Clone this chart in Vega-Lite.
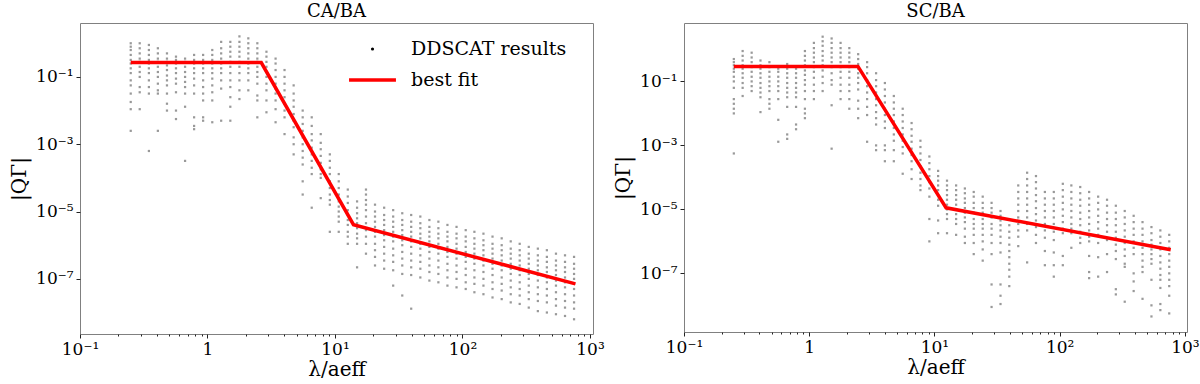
{
"$schema": "https://vega.github.io/schema/vega-lite/v6.json",
"background": "white",
"padding": {"left": 9, "top": 2, "right": 0, "bottom": 0},
"datasets": {
"ca": [
{"x":0.25,"y":1},{"x":0.25,"y":0.79},{"x":0.25,"y":0.63},{"x":0.25,"y":0.45},{"x":0.25,"y":0.32},{"x":0.25,"y":0.25},{"x":0.25,"y":0.18},{"x":0.25,"y":0.13},{"x":0.25,"y":0.079},{"x":0.25,"y":0.056},{"x":0.25,"y":0.032},{"x":0.25,"y":0.018},{"x":0.25,"y":0.011},{"x":0.25,"y":0.0025},
{"x":0.294,"y":1},{"x":0.294,"y":0.71},{"x":0.294,"y":0.5},{"x":0.294,"y":0.35},{"x":0.294,"y":0.28},{"x":0.294,"y":0.2},{"x":0.294,"y":0.14},{"x":0.294,"y":0.1},{"x":0.294,"y":0.05},{"x":0.294,"y":0.035},{"x":0.294,"y":0.011},
{"x":0.347,"y":0.89},{"x":0.347,"y":0.63},{"x":0.347,"y":0.45},{"x":0.347,"y":0.32},{"x":0.347,"y":0.25},{"x":0.347,"y":0.18},{"x":0.347,"y":0.13},{"x":0.347,"y":0.079},{"x":0.347,"y":0.05},{"x":0.347,"y":0.032},{"x":0.347,"y":6.3e-4},
{"x":0.408,"y":0.71},{"x":0.408,"y":0.5},{"x":0.408,"y":0.35},{"x":0.408,"y":0.28},{"x":0.408,"y":0.2},{"x":0.408,"y":0.14},{"x":0.408,"y":0.1},{"x":0.408,"y":0.063},{"x":0.408,"y":0.04},{"x":0.408,"y":0.032},{"x":0.408,"y":0.0025},
{"x":0.481,"y":0.5},{"x":0.481,"y":0.35},{"x":0.481,"y":0.28},{"x":0.481,"y":0.22},{"x":0.481,"y":0.16},{"x":0.481,"y":0.11},{"x":0.481,"y":0.079},{"x":0.481,"y":0.056},{"x":0.481,"y":0.032},{"x":0.481,"y":0.016},{"x":0.481,"y":0.01},
{"x":0.566,"y":0.4},{"x":0.566,"y":0.32},{"x":0.566,"y":0.25},{"x":0.566,"y":0.18},{"x":0.566,"y":0.13},{"x":0.566,"y":0.089},{"x":0.566,"y":0.063},{"x":0.566,"y":0.035},{"x":0.566,"y":0.01},{"x":0.566,"y":0.0056},
{"x":0.667,"y":0.35},{"x":0.667,"y":0.28},{"x":0.667,"y":0.2},{"x":0.667,"y":0.14},{"x":0.667,"y":0.1},{"x":0.667,"y":0.071},{"x":0.667,"y":0.05},{"x":0.667,"y":0.032},{"x":0.667,"y":0.013},{"x":0.667,"y":3.2e-4},
{"x":0.785,"y":0.45},{"x":0.785,"y":0.32},{"x":0.785,"y":0.25},{"x":0.785,"y":0.18},{"x":0.785,"y":0.13},{"x":0.785,"y":0.089},{"x":0.785,"y":0.056},{"x":0.785,"y":0.032},{"x":0.785,"y":0.0063},{"x":0.785,"y":0.0035},{"x":0.785,"y":0.0028},
{"x":0.924,"y":0.45},{"x":0.924,"y":0.32},{"x":0.924,"y":0.25},{"x":0.924,"y":0.18},{"x":0.924,"y":0.13},{"x":0.924,"y":0.079},{"x":0.924,"y":0.05},{"x":0.924,"y":0.032},{"x":0.924,"y":0.02},{"x":0.924,"y":0.0063},{"x":0.924,"y":0.005},
{"x":1.09,"y":0.63},{"x":1.09,"y":0.45},{"x":1.09,"y":0.32},{"x":1.09,"y":0.25},{"x":1.09,"y":0.18},{"x":1.09,"y":0.13},{"x":1.09,"y":0.089},{"x":1.09,"y":0.056},{"x":1.09,"y":0.035},{"x":1.09,"y":0.02},{"x":1.09,"y":0.0045},
{"x":1.28,"y":1.1},{"x":1.28,"y":0.71},{"x":1.28,"y":0.5},{"x":1.28,"y":0.35},{"x":1.28,"y":0.25},{"x":1.28,"y":0.18},{"x":1.28,"y":0.13},{"x":1.28,"y":0.079},{"x":1.28,"y":0.045},{"x":1.28,"y":0.005},
{"x":1.51,"y":1.1},{"x":1.51,"y":0.79},{"x":1.51,"y":0.56},{"x":1.51,"y":0.4},{"x":1.51,"y":0.28},{"x":1.51,"y":0.2},{"x":1.51,"y":0.13},{"x":1.51,"y":0.079},{"x":1.51,"y":0.05},{"x":1.51,"y":0.025},{"x":1.51,"y":0.013},{"x":1.51,"y":0.005},
{"x":1.78,"y":1.6},{"x":1.78,"y":1.1},{"x":1.78,"y":0.79},{"x":1.78,"y":0.56},{"x":1.78,"y":0.4},{"x":1.78,"y":0.28},{"x":1.78,"y":0.2},{"x":1.78,"y":0.13},{"x":1.78,"y":0.079},{"x":1.78,"y":0.04},{"x":1.78,"y":0.022},
{"x":2.09,"y":1.4},{"x":2.09,"y":1},{"x":2.09,"y":0.71},{"x":2.09,"y":0.5},{"x":2.09,"y":0.35},{"x":2.09,"y":0.25},{"x":2.09,"y":0.18},{"x":2.09,"y":0.13},{"x":2.09,"y":0.079},{"x":2.09,"y":0.04},
{"x":2.46,"y":1},{"x":2.46,"y":0.71},{"x":2.46,"y":0.5},{"x":2.46,"y":0.35},{"x":2.46,"y":0.28},{"x":2.46,"y":0.2},{"x":2.46,"y":0.14},{"x":2.46,"y":0.1},{"x":2.46,"y":0.063},{"x":2.46,"y":0.028},{"x":2.46,"y":0.02},{"x":2.46,"y":0.0063},
{"x":2.9,"y":0.56},{"x":2.9,"y":0.4},{"x":2.9,"y":0.28},{"x":2.9,"y":0.2},{"x":2.9,"y":0.14},{"x":2.9,"y":0.1},{"x":2.9,"y":0.063},{"x":2.9,"y":0.04},{"x":2.9,"y":0.02},{"x":2.9,"y":0.0089},
{"x":3.42,"y":0.35},{"x":3.42,"y":0.25},{"x":3.42,"y":0.16},{"x":3.42,"y":0.1},{"x":3.42,"y":0.063},{"x":3.42,"y":0.045},{"x":3.42,"y":0.032},{"x":3.42,"y":0.02},{"x":3.42,"y":0.011},{"x":3.42,"y":0.0045},
{"x":4.02,"y":0.16},{"x":4.02,"y":0.1},{"x":4.02,"y":0.063},{"x":4.02,"y":0.04},{"x":4.02,"y":0.025},{"x":4.02,"y":0.016},{"x":4.02,"y":0.01},{"x":4.02,"y":0.0063},{"x":4.02,"y":0.002},
{"x":4.74,"y":0.056},{"x":4.74,"y":0.032},{"x":4.74,"y":0.02},{"x":4.74,"y":0.013},{"x":4.74,"y":0.0079},{"x":4.74,"y":0.005},{"x":4.74,"y":0.0032},{"x":4.74,"y":0.0016},{"x":4.74,"y":0.001},{"x":4.74,"y":5e-4},
{"x":5.58,"y":0.01},{"x":5.58,"y":0.0063},{"x":5.58,"y":0.004},{"x":5.58,"y":0.0025},{"x":5.58,"y":0.0016},{"x":5.58,"y":0.001},{"x":5.58,"y":6.3e-4},{"x":5.58,"y":4e-4},{"x":5.58,"y":2.5e-4},{"x":5.58,"y":7.9e-5},{"x":5.58,"y":3.2e-5},
{"x":6.57,"y":0.0063},{"x":6.57,"y":0.0035},{"x":6.57,"y":0.002},{"x":6.57,"y":0.0013},{"x":6.57,"y":7.9e-4},{"x":6.57,"y":5e-4},{"x":6.57,"y":3.2e-4},{"x":6.57,"y":2e-4},{"x":6.57,"y":1.3e-4},{"x":6.57,"y":1.3e-5},
{"x":7.73,"y":0.002},{"x":7.73,"y":0.0011},{"x":7.73,"y":7.1e-4},{"x":7.73,"y":4.5e-4},{"x":7.73,"y":2.8e-4},{"x":7.73,"y":1.8e-4},{"x":7.73,"y":1.3e-4},{"x":7.73,"y":1e-4},{"x":7.73,"y":2.5e-5},
{"x":9.11,"y":5e-4},{"x":9.11,"y":3.2e-4},{"x":9.11,"y":2e-4},{"x":9.11,"y":1.3e-4},{"x":9.11,"y":7.9e-5},{"x":9.11,"y":5e-5},{"x":9.11,"y":3.2e-5},{"x":9.11,"y":2.2e-5},{"x":9.11,"y":1.6e-5},{"x":9.11,"y":2.5e-6},
{"x":10.7,"y":1.3e-4},{"x":10.7,"y":7.9e-5},{"x":10.7,"y":5e-5},{"x":10.7,"y":3.2e-5},{"x":10.7,"y":2e-5},{"x":10.7,"y":1.4e-5},{"x":10.7,"y":1e-5},{"x":10.7,"y":7.1e-6},{"x":10.7,"y":5e-6},{"x":10.7,"y":2.5e-6},
{"x":12.6,"y":4.5e-5},{"x":12.6,"y":2.8e-5},{"x":12.6,"y":1.8e-5},{"x":12.6,"y":1.1e-5},{"x":12.6,"y":7.9e-6},{"x":12.6,"y":5.6e-6},{"x":12.6,"y":4e-6},{"x":12.6,"y":2.5e-6},{"x":12.6,"y":1.8e-6},{"x":12.6,"y":1.1e-6},
{"x":14.9,"y":2e-5},{"x":14.9,"y":1.3e-5},{"x":14.9,"y":8.9e-6},{"x":14.9,"y":6.3e-6},{"x":14.9,"y":4.5e-6},{"x":14.9,"y":3.2e-6},{"x":14.9,"y":2.2e-6},{"x":14.9,"y":1.6e-6},{"x":14.9,"y":1.1e-6},{"x":14.9,"y":2.2e-7},
{"x":17.5,"y":4.5e-5},{"x":17.5,"y":3.2e-5},{"x":17.5,"y":2.2e-5},{"x":17.5,"y":1.6e-5},{"x":17.5,"y":1.1e-5},{"x":17.5,"y":7.1e-6},{"x":17.5,"y":4.5e-6},{"x":17.5,"y":2.8e-6},{"x":17.5,"y":1.8e-6},{"x":17.5,"y":1.1e-6},{"x":17.5,"y":5.6e-7},
{"x":20.6,"y":1.6e-5},{"x":20.6,"y":1e-5},{"x":20.6,"y":7.1e-6},{"x":20.6,"y":5e-6},{"x":20.6,"y":3.5e-6},{"x":20.6,"y":2.5e-6},{"x":20.6,"y":1.8e-6},{"x":20.6,"y":1.1e-6},{"x":20.6,"y":7.1e-7},{"x":20.6,"y":4.5e-7},{"x":20.6,"y":2.5e-7},
{"x":24.3,"y":1.3e-5},{"x":24.3,"y":7.9e-6},{"x":24.3,"y":5.6e-6},{"x":24.3,"y":4e-6},{"x":24.3,"y":2.8e-6},{"x":24.3,"y":2e-6},{"x":24.3,"y":1.4e-6},{"x":24.3,"y":8.9e-7},{"x":24.3,"y":5.6e-7},{"x":24.3,"y":3.5e-7},{"x":24.3,"y":2e-7},
{"x":28.6,"y":1.1e-5},{"x":28.6,"y":7.1e-6},{"x":28.6,"y":5e-6},{"x":28.6,"y":3.5e-6},{"x":28.6,"y":2.5e-6},{"x":28.6,"y":1.8e-6},{"x":28.6,"y":1.3e-6},{"x":28.6,"y":7.9e-7},{"x":28.6,"y":5e-7},{"x":28.6,"y":3.2e-7},{"x":28.6,"y":1.8e-7},{"x":28.6,"y":6.3e-8},
{"x":33.7,"y":8.9e-6},{"x":33.7,"y":5.6e-6},{"x":33.7,"y":4e-6},{"x":33.7,"y":2.8e-6},{"x":33.7,"y":2e-6},{"x":33.7,"y":1.4e-6},{"x":33.7,"y":1e-6},{"x":33.7,"y":6.3e-7},{"x":33.7,"y":4e-7},{"x":33.7,"y":2.5e-7},{"x":33.7,"y":1.4e-7},{"x":33.7,"y":3.2e-8},
{"x":39.6,"y":7.9e-6},{"x":39.6,"y":5e-6},{"x":39.6,"y":3.5e-6},{"x":39.6,"y":2.5e-6},{"x":39.6,"y":1.8e-6},{"x":39.6,"y":1.3e-6},{"x":39.6,"y":8.9e-7},{"x":39.6,"y":5.6e-7},{"x":39.6,"y":3.5e-7},{"x":39.6,"y":2.2e-7},{"x":39.6,"y":1.3e-7},{"x":39.6,"y":1.3e-8},
{"x":46.7,"y":7.1e-6},{"x":46.7,"y":4.5e-6},{"x":46.7,"y":3.2e-6},{"x":46.7,"y":2.2e-6},{"x":46.7,"y":1.6e-6},{"x":46.7,"y":1.1e-6},{"x":46.7,"y":7.9e-7},{"x":46.7,"y":5e-7},{"x":46.7,"y":3.2e-7},{"x":46.7,"y":2e-7},{"x":46.7,"y":1.1e-7},
{"x":55,"y":5.6e-6},{"x":55,"y":3.5e-6},{"x":55,"y":2.5e-6},{"x":55,"y":1.8e-6},{"x":55,"y":1.3e-6},{"x":55,"y":8.9e-7},{"x":55,"y":6.3e-7},{"x":55,"y":4e-7},{"x":55,"y":2.5e-7},{"x":55,"y":1.6e-7},{"x":55,"y":8.9e-8},
{"x":64.7,"y":5e-6},{"x":64.7,"y":3.2e-6},{"x":64.7,"y":2.2e-6},{"x":64.7,"y":1.6e-6},{"x":64.7,"y":1.1e-6},{"x":64.7,"y":7.9e-7},{"x":64.7,"y":5.6e-7},{"x":64.7,"y":3.5e-7},{"x":64.7,"y":2.2e-7},{"x":64.7,"y":1.4e-7},{"x":64.7,"y":7.9e-8},
{"x":76.2,"y":4e-6},{"x":76.2,"y":2.5e-6},{"x":76.2,"y":1.8e-6},{"x":76.2,"y":1.3e-6},{"x":76.2,"y":8.9e-7},{"x":76.2,"y":6.3e-7},{"x":76.2,"y":4.5e-7},{"x":76.2,"y":2.8e-7},{"x":76.2,"y":1.8e-7},{"x":76.2,"y":1.1e-7},{"x":76.2,"y":6.3e-8},
{"x":89.8,"y":3.5e-6},{"x":89.8,"y":2.2e-6},{"x":89.8,"y":1.6e-6},{"x":89.8,"y":1.1e-6},{"x":89.8,"y":7.9e-7},{"x":89.8,"y":5.6e-7},{"x":89.8,"y":4e-7},{"x":89.8,"y":2.5e-7},{"x":89.8,"y":1.6e-7},{"x":89.8,"y":1e-7},{"x":89.8,"y":5.6e-8},
{"x":106,"y":2.8e-6},{"x":106,"y":1.8e-6},{"x":106,"y":1.3e-6},{"x":106,"y":8.9e-7},{"x":106,"y":6.3e-7},{"x":106,"y":4.5e-7},{"x":106,"y":3.2e-7},{"x":106,"y":2e-7},{"x":106,"y":1.3e-7},{"x":106,"y":7.9e-8},{"x":106,"y":5e-8},
{"x":124,"y":2.5e-6},{"x":124,"y":1.6e-6},{"x":124,"y":1.1e-6},{"x":124,"y":7.9e-7},{"x":124,"y":5.6e-7},{"x":124,"y":4e-7},{"x":124,"y":2.8e-7},{"x":124,"y":1.8e-7},{"x":124,"y":1.1e-7},{"x":124,"y":7.1e-8},{"x":124,"y":4e-8},
{"x":146,"y":2.2e-6},{"x":146,"y":1.4e-6},{"x":146,"y":1e-6},{"x":146,"y":7.1e-7},{"x":146,"y":5e-7},{"x":146,"y":3.5e-7},{"x":146,"y":2.5e-7},{"x":146,"y":1.6e-7},{"x":146,"y":1e-7},{"x":146,"y":6.3e-8},{"x":146,"y":3.5e-8},
{"x":172,"y":1.8e-6},{"x":172,"y":1.1e-6},{"x":172,"y":7.9e-7},{"x":172,"y":5.6e-7},{"x":172,"y":4e-7},{"x":172,"y":2.8e-7},{"x":172,"y":2e-7},{"x":172,"y":1.3e-7},{"x":172,"y":7.9e-8},{"x":172,"y":5e-8},{"x":172,"y":2.8e-8},
{"x":203,"y":1.6e-6},{"x":203,"y":1e-6},{"x":203,"y":7.1e-7},{"x":203,"y":5e-7},{"x":203,"y":3.5e-7},{"x":203,"y":2.5e-7},{"x":203,"y":1.8e-7},{"x":203,"y":1.1e-7},{"x":203,"y":7.1e-8},{"x":203,"y":4.5e-8},{"x":203,"y":2.5e-8},
{"x":239,"y":1.3e-6},{"x":239,"y":7.9e-7},{"x":239,"y":5.6e-7},{"x":239,"y":4e-7},{"x":239,"y":2.8e-7},{"x":239,"y":2e-7},{"x":239,"y":1.4e-7},{"x":239,"y":8.9e-8},{"x":239,"y":5.6e-8},{"x":239,"y":3.5e-8},{"x":239,"y":2e-8},
{"x":281,"y":1.1e-6},{"x":281,"y":7.1e-7},{"x":281,"y":5e-7},{"x":281,"y":3.5e-7},{"x":281,"y":2.5e-7},{"x":281,"y":1.8e-7},{"x":281,"y":1.3e-7},{"x":281,"y":7.9e-8},{"x":281,"y":5e-8},{"x":281,"y":3.2e-8},{"x":281,"y":1.8e-8},
{"x":331,"y":8.9e-7},{"x":331,"y":5.6e-7},{"x":331,"y":4e-7},{"x":331,"y":2.8e-7},{"x":331,"y":2e-7},{"x":331,"y":1.4e-7},{"x":331,"y":1e-7},{"x":331,"y":6.3e-8},{"x":331,"y":4e-8},{"x":331,"y":2.5e-8},{"x":331,"y":1.4e-8},
{"x":390,"y":7.9e-7},{"x":390,"y":5e-7},{"x":390,"y":3.5e-7},{"x":390,"y":2.5e-7},{"x":390,"y":1.8e-7},{"x":390,"y":1.3e-7},{"x":390,"y":8.9e-8},{"x":390,"y":5.6e-8},{"x":390,"y":3.5e-8},{"x":390,"y":2.2e-8},{"x":390,"y":1.1e-8},
{"x":459,"y":7.1e-7},{"x":459,"y":4.5e-7},{"x":459,"y":3.2e-7},{"x":459,"y":2.2e-7},{"x":459,"y":1.6e-7},{"x":459,"y":1.1e-7},{"x":459,"y":7.9e-8},{"x":459,"y":5e-8},{"x":459,"y":3.2e-8},{"x":459,"y":2e-8},{"x":459,"y":1e-8},
{"x":541,"y":5.6e-7},{"x":541,"y":3.5e-7},{"x":541,"y":2.5e-7},{"x":541,"y":1.8e-7},{"x":541,"y":1.3e-7},{"x":541,"y":8.9e-8},{"x":541,"y":6.3e-8},{"x":541,"y":4e-8},{"x":541,"y":2.5e-8},{"x":541,"y":1.6e-8},{"x":541,"y":8.9e-9},
{"x":637,"y":5e-7},{"x":637,"y":3.2e-7},{"x":637,"y":2.2e-7},{"x":637,"y":1.6e-7},{"x":637,"y":1.1e-7},{"x":637,"y":7.9e-8},{"x":637,"y":5.6e-8},{"x":637,"y":3.5e-8},{"x":637,"y":2.2e-8},{"x":637,"y":1.4e-8},{"x":637,"y":7.9e-9},
{"x":750,"y":4.5e-7},{"x":750,"y":2.8e-7},{"x":750,"y":2e-7},{"x":750,"y":1.4e-7},{"x":750,"y":1e-7},{"x":750,"y":7.1e-8},{"x":750,"y":5e-8},{"x":750,"y":3.2e-8},{"x":750,"y":2e-8},{"x":750,"y":1.3e-8},{"x":750,"y":6.3e-9}
],
"sc": [
{"x":0.25,"y":0.5},{"x":0.25,"y":0.4},{"x":0.25,"y":0.32},{"x":0.25,"y":0.25},{"x":0.25,"y":0.2},{"x":0.25,"y":0.14},{"x":0.25,"y":0.1},{"x":0.25,"y":0.063},{"x":0.25,"y":0.028},{"x":0.25,"y":0.02},{"x":0.25,"y":0.014},{"x":0.25,"y":0.01},{"x":0.25,"y":5.6e-4},
{"x":0.294,"y":0.89},{"x":0.294,"y":0.63},{"x":0.294,"y":0.45},{"x":0.294,"y":0.32},{"x":0.294,"y":0.25},{"x":0.294,"y":0.18},{"x":0.294,"y":0.13},{"x":0.294,"y":0.089},{"x":0.294,"y":0.063},{"x":0.294,"y":0.035},
{"x":0.347,"y":0.79},{"x":0.347,"y":0.56},{"x":0.347,"y":0.4},{"x":0.347,"y":0.28},{"x":0.347,"y":0.2},{"x":0.347,"y":0.14},{"x":0.347,"y":0.1},{"x":0.347,"y":0.071},{"x":0.347,"y":0.05},
{"x":0.408,"y":0.45},{"x":0.408,"y":0.32},{"x":0.408,"y":0.25},{"x":0.408,"y":0.18},{"x":0.408,"y":0.13},{"x":0.408,"y":0.089},{"x":0.408,"y":0.063},{"x":0.408,"y":0.045},{"x":0.408,"y":0.032},{"x":0.408,"y":0.011},
{"x":0.481,"y":0.4},{"x":0.481,"y":0.28},{"x":0.481,"y":0.2},{"x":0.481,"y":0.14},{"x":0.481,"y":0.1},{"x":0.481,"y":0.071},{"x":0.481,"y":0.05},{"x":0.481,"y":0.028},{"x":0.481,"y":0.02},{"x":0.481,"y":0.014},
{"x":0.566,"y":0.25},{"x":0.566,"y":0.2},{"x":0.566,"y":0.14},{"x":0.566,"y":0.1},{"x":0.566,"y":0.071},{"x":0.566,"y":0.05},{"x":0.566,"y":0.028},{"x":0.566,"y":0.0063},{"x":0.566,"y":0.0013},
{"x":0.667,"y":0.35},{"x":0.667,"y":0.25},{"x":0.667,"y":0.18},{"x":0.667,"y":0.13},{"x":0.667,"y":0.089},{"x":0.667,"y":0.063},{"x":0.667,"y":0.045},{"x":0.667,"y":0.032},{"x":0.667,"y":0.016},{"x":0.667,"y":0.0022},{"x":0.667,"y":0.0016},
{"x":0.785,"y":0.25},{"x":0.785,"y":0.18},{"x":0.785,"y":0.13},{"x":0.785,"y":0.089},{"x":0.785,"y":0.063},{"x":0.785,"y":0.045},{"x":0.785,"y":0.032},{"x":0.785,"y":0.016},{"x":0.785,"y":0.0045},{"x":0.785,"y":0.0032},
{"x":0.924,"y":0.89},{"x":0.924,"y":0.63},{"x":0.924,"y":0.45},{"x":0.924,"y":0.32},{"x":0.924,"y":0.22},{"x":0.924,"y":0.16},{"x":0.924,"y":0.11},{"x":0.924,"y":0.079},{"x":0.924,"y":0.05},{"x":0.924,"y":0.028},{"x":0.924,"y":0.014},{"x":0.924,"y":0.01},{"x":0.924,"y":0.0071},
{"x":1.09,"y":1.6},{"x":1.09,"y":1.1},{"x":1.09,"y":0.79},{"x":1.09,"y":0.56},{"x":1.09,"y":0.4},{"x":1.09,"y":0.28},{"x":1.09,"y":0.2},{"x":1.09,"y":0.13},{"x":1.09,"y":0.079},{"x":1.09,"y":0.05},{"x":1.09,"y":0.028},
{"x":1.28,"y":2.5},{"x":1.28,"y":1.8},{"x":1.28,"y":1.3},{"x":1.28,"y":0.89},{"x":1.28,"y":0.63},{"x":1.28,"y":0.45},{"x":1.28,"y":0.32},{"x":1.28,"y":0.22},{"x":1.28,"y":0.14},{"x":1.28,"y":0.089},{"x":1.28,"y":0.05},
{"x":1.51,"y":2.2},{"x":1.51,"y":1.6},{"x":1.51,"y":1.1},{"x":1.51,"y":0.79},{"x":1.51,"y":0.56},{"x":1.51,"y":0.4},{"x":1.51,"y":0.28},{"x":1.51,"y":0.18},{"x":1.51,"y":0.11},{"x":1.51,"y":0.079},{"x":1.51,"y":0.018},{"x":1.51,"y":7.9e-4},
{"x":1.78,"y":1.6},{"x":1.78,"y":1.1},{"x":1.78,"y":0.79},{"x":1.78,"y":0.56},{"x":1.78,"y":0.4},{"x":1.78,"y":0.28},{"x":1.78,"y":0.2},{"x":1.78,"y":0.13},{"x":1.78,"y":0.079},{"x":1.78,"y":0.05},{"x":1.78,"y":0.028},
{"x":2.09,"y":1.1},{"x":2.09,"y":0.79},{"x":2.09,"y":0.56},{"x":2.09,"y":0.4},{"x":2.09,"y":0.28},{"x":2.09,"y":0.2},{"x":2.09,"y":0.13},{"x":2.09,"y":0.079},{"x":2.09,"y":0.05},{"x":2.09,"y":0.028},{"x":2.09,"y":0.014},
{"x":2.46,"y":0.71},{"x":2.46,"y":0.5},{"x":2.46,"y":0.35},{"x":2.46,"y":0.25},{"x":2.46,"y":0.18},{"x":2.46,"y":0.13},{"x":2.46,"y":0.089},{"x":2.46,"y":0.056},{"x":2.46,"y":0.025},{"x":2.46,"y":0.014},{"x":2.46,"y":0.0071},
{"x":2.9,"y":0.4},{"x":2.9,"y":0.28},{"x":2.9,"y":0.18},{"x":2.9,"y":0.11},{"x":2.9,"y":0.071},{"x":2.9,"y":0.045},{"x":2.9,"y":0.028},{"x":2.9,"y":0.016},{"x":2.9,"y":0.0089},{"x":2.9,"y":0.0013},
{"x":3.42,"y":0.18},{"x":3.42,"y":0.11},{"x":3.42,"y":0.071},{"x":3.42,"y":0.045},{"x":3.42,"y":0.028},{"x":3.42,"y":0.018},{"x":3.42,"y":0.011},{"x":3.42,"y":0.0071},{"x":3.42,"y":0.0045},{"x":3.42,"y":0.001},{"x":3.42,"y":7.1e-4},
{"x":4.02,"y":0.089},{"x":4.02,"y":0.056},{"x":4.02,"y":0.035},{"x":4.02,"y":0.022},{"x":4.02,"y":0.014},{"x":4.02,"y":0.0089},{"x":4.02,"y":0.0056},{"x":4.02,"y":0.0035},{"x":4.02,"y":0.001},{"x":4.02,"y":7.1e-4},{"x":4.02,"y":3.2e-4},
{"x":4.74,"y":0.035},{"x":4.74,"y":0.022},{"x":4.74,"y":0.014},{"x":4.74,"y":0.0089},{"x":4.74,"y":0.0056},{"x":4.74,"y":0.0035},{"x":4.74,"y":0.0022},{"x":4.74,"y":0.0014},{"x":4.74,"y":7.1e-4},{"x":4.74,"y":3.2e-4},
{"x":5.58,"y":0.014},{"x":5.58,"y":0.0089},{"x":5.58,"y":0.0056},{"x":5.58,"y":0.0035},{"x":5.58,"y":0.0022},{"x":5.58,"y":0.0014},{"x":5.58,"y":8.9e-4},{"x":5.58,"y":5.6e-4},{"x":5.58,"y":1.3e-4},
{"x":6.57,"y":0.005},{"x":6.57,"y":0.0032},{"x":6.57,"y":0.002},{"x":6.57,"y":0.0013},{"x":6.57,"y":7.9e-4},{"x":6.57,"y":5e-4},{"x":6.57,"y":3.2e-4},{"x":6.57,"y":1.8e-4},{"x":6.57,"y":8.9e-5},
{"x":7.73,"y":0.0014},{"x":7.73,"y":8.9e-4},{"x":7.73,"y":5.6e-4},{"x":7.73,"y":3.5e-4},{"x":7.73,"y":2.2e-4},{"x":7.73,"y":1.4e-4},{"x":7.73,"y":8.9e-5},{"x":7.73,"y":5.6e-5},{"x":7.73,"y":4e-5},
{"x":9.11,"y":4.5e-4},{"x":9.11,"y":2.8e-4},{"x":9.11,"y":1.8e-4},{"x":9.11,"y":1.1e-4},{"x":9.11,"y":7.1e-5},{"x":9.11,"y":4.5e-5},{"x":9.11,"y":2.5e-5},{"x":9.11,"y":5e-6},{"x":9.11,"y":1e-6},
{"x":10.7,"y":1.6e-4},{"x":10.7,"y":1.1e-4},{"x":10.7,"y":7.9e-5},{"x":10.7,"y":5.6e-5},{"x":10.7,"y":4e-5},{"x":10.7,"y":2.8e-5},{"x":10.7,"y":2e-5},{"x":10.7,"y":1.3e-5},{"x":10.7,"y":4.5e-6},{"x":10.7,"y":1.8e-6},
{"x":12.6,"y":7.9e-5},{"x":12.6,"y":5.6e-5},{"x":12.6,"y":4e-5},{"x":12.6,"y":2.8e-5},{"x":12.6,"y":2e-5},{"x":12.6,"y":1.4e-5},{"x":12.6,"y":1e-5},{"x":12.6,"y":7.1e-6},{"x":12.6,"y":5e-6},{"x":12.6,"y":1.8e-6},
{"x":14.9,"y":5.6e-5},{"x":14.9,"y":4e-5},{"x":14.9,"y":2.8e-5},{"x":14.9,"y":2e-5},{"x":14.9,"y":1.4e-5},{"x":14.9,"y":1e-5},{"x":14.9,"y":7.1e-6},{"x":14.9,"y":5e-6},{"x":14.9,"y":3.5e-6},{"x":14.9,"y":1.6e-6},
{"x":17.5,"y":4.5e-5},{"x":17.5,"y":3.2e-5},{"x":17.5,"y":2.2e-5},{"x":17.5,"y":1.6e-5},{"x":17.5,"y":1.1e-5},{"x":17.5,"y":7.9e-6},{"x":17.5,"y":5.6e-6},{"x":17.5,"y":4e-6},{"x":17.5,"y":2.5e-6},{"x":17.5,"y":1.4e-6},{"x":17.5,"y":8.9e-7},
{"x":20.6,"y":3.5e-5},{"x":20.6,"y":2.5e-5},{"x":20.6,"y":1.6e-5},{"x":20.6,"y":1.1e-5},{"x":20.6,"y":7.9e-6},{"x":20.6,"y":5e-6},{"x":20.6,"y":3.5e-6},{"x":20.6,"y":2.5e-6},{"x":20.6,"y":1.6e-6},{"x":20.6,"y":8.9e-7},{"x":20.6,"y":4e-7},
{"x":24.3,"y":2.5e-5},{"x":24.3,"y":1.6e-5},{"x":24.3,"y":1.1e-5},{"x":24.3,"y":7.9e-6},{"x":24.3,"y":5e-6},{"x":24.3,"y":3.5e-6},{"x":24.3,"y":2.5e-6},{"x":24.3,"y":1.6e-6},{"x":24.3,"y":1e-6},{"x":24.3,"y":5.6e-7},{"x":24.3,"y":2.5e-7},
{"x":28.6,"y":1.6e-5},{"x":28.6,"y":1.1e-5},{"x":28.6,"y":7.9e-6},{"x":28.6,"y":5.6e-6},{"x":28.6,"y":3.5e-6},{"x":28.6,"y":2.5e-6},{"x":28.6,"y":1.6e-6},{"x":28.6,"y":8.9e-7},{"x":28.6,"y":4e-7},{"x":28.6,"y":4.5e-8},{"x":28.6,"y":8.9e-9},
{"x":33.7,"y":8.9e-6},{"x":33.7,"y":6.3e-6},{"x":33.7,"y":4.5e-6},{"x":33.7,"y":3.2e-6},{"x":33.7,"y":2.2e-6},{"x":33.7,"y":1.4e-6},{"x":33.7,"y":8.9e-7},{"x":33.7,"y":4.5e-7},{"x":33.7,"y":4.5e-8},{"x":33.7,"y":2e-8},{"x":33.7,"y":1.1e-8},
{"x":39.6,"y":3.2e-6},{"x":39.6,"y":2e-6},{"x":39.6,"y":1.3e-6},{"x":39.6,"y":7.9e-7},{"x":39.6,"y":5e-7},{"x":39.6,"y":3.2e-7},{"x":39.6,"y":2e-7},{"x":39.6,"y":1.3e-7},{"x":39.6,"y":7.9e-8},{"x":39.6,"y":4e-8},
{"x":46.7,"y":5.6e-5},{"x":46.7,"y":3.5e-5},{"x":46.7,"y":2.2e-5},{"x":46.7,"y":1.4e-5},{"x":46.7,"y":8.9e-6},{"x":46.7,"y":5.6e-6},{"x":46.7,"y":3.5e-6},{"x":46.7,"y":2.2e-6},{"x":46.7,"y":1.4e-6},{"x":46.7,"y":7.1e-7},
{"x":55,"y":1.4e-4},{"x":55,"y":8.9e-5},{"x":55,"y":5.6e-5},{"x":55,"y":3.5e-5},{"x":55,"y":2.2e-5},{"x":55,"y":1.4e-5},{"x":55,"y":8.9e-6},{"x":55,"y":5.6e-6},{"x":55,"y":3.5e-6},{"x":55,"y":2.2e-6},{"x":55,"y":2.2e-7},
{"x":64.7,"y":1.1e-4},{"x":64.7,"y":7.1e-5},{"x":64.7,"y":4.5e-5},{"x":64.7,"y":2.8e-5},{"x":64.7,"y":1.8e-5},{"x":64.7,"y":1.1e-5},{"x":64.7,"y":7.1e-6},{"x":64.7,"y":4.5e-6},{"x":64.7,"y":2.8e-6},{"x":64.7,"y":1.6e-6},{"x":64.7,"y":8.9e-7},
{"x":76.2,"y":3.5e-5},{"x":76.2,"y":2.2e-5},{"x":76.2,"y":1.4e-5},{"x":76.2,"y":8.9e-6},{"x":76.2,"y":5.6e-6},{"x":76.2,"y":3.5e-6},{"x":76.2,"y":2.2e-6},{"x":76.2,"y":1.3e-6},{"x":76.2,"y":5e-7},{"x":76.2,"y":1.8e-7},
{"x":89.8,"y":3.5e-5},{"x":89.8,"y":2.2e-5},{"x":89.8,"y":1.4e-5},{"x":89.8,"y":8.9e-6},{"x":89.8,"y":5.6e-6},{"x":89.8,"y":3.5e-6},{"x":89.8,"y":2e-6},{"x":89.8,"y":1.1e-6},{"x":89.8,"y":4.5e-7},{"x":89.8,"y":1.8e-7},{"x":89.8,"y":7.9e-8},
{"x":106,"y":6.3e-5},{"x":106,"y":4e-5},{"x":106,"y":2.5e-5},{"x":106,"y":1.6e-5},{"x":106,"y":1e-5},{"x":106,"y":6.3e-6},{"x":106,"y":4e-6},{"x":106,"y":2.5e-6},{"x":106,"y":1.8e-6},{"x":106,"y":3.5e-7},{"x":106,"y":1.8e-7},
{"x":124,"y":5.6e-5},{"x":124,"y":3.5e-5},{"x":124,"y":2.2e-5},{"x":124,"y":1.4e-5},{"x":124,"y":8.9e-6},{"x":124,"y":5.6e-6},{"x":124,"y":3.5e-6},{"x":124,"y":2.5e-6},{"x":124,"y":1.8e-6},{"x":124,"y":6.3e-7},
{"x":146,"y":5e-5},{"x":146,"y":3.2e-5},{"x":146,"y":2e-5},{"x":146,"y":1.3e-5},{"x":146,"y":7.9e-6},{"x":146,"y":5e-6},{"x":146,"y":3.2e-6},{"x":146,"y":2e-6},{"x":146,"y":1.3e-6},{"x":146,"y":8.9e-7},
{"x":172,"y":3.5e-5},{"x":172,"y":2.2e-5},{"x":172,"y":1.4e-5},{"x":172,"y":8.9e-6},{"x":172,"y":5.6e-6},{"x":172,"y":3.5e-6},{"x":172,"y":2.2e-6},{"x":172,"y":1.4e-6},{"x":172,"y":1e-6},{"x":172,"y":3.5e-7},{"x":172,"y":1.1e-7},{"x":172,"y":7.1e-8},
{"x":203,"y":2.5e-5},{"x":203,"y":1.6e-5},{"x":203,"y":1e-5},{"x":203,"y":6.3e-6},{"x":203,"y":4e-6},{"x":203,"y":2.5e-6},{"x":203,"y":1.6e-6},{"x":203,"y":8.9e-7},{"x":203,"y":3.2e-7},{"x":203,"y":7.9e-8},
{"x":239,"y":2e-5},{"x":239,"y":1.3e-5},{"x":239,"y":7.9e-6},{"x":239,"y":5e-6},{"x":239,"y":3.2e-6},{"x":239,"y":2e-6},{"x":239,"y":1.1e-6},{"x":239,"y":4e-7},{"x":239,"y":1.1e-7},
{"x":281,"y":1.3e-5},{"x":281,"y":7.9e-6},{"x":281,"y":5e-6},{"x":281,"y":3.2e-6},{"x":281,"y":2e-6},{"x":281,"y":1.3e-6},{"x":281,"y":7.9e-7},{"x":281,"y":5e-7},{"x":281,"y":2.8e-7},{"x":281,"y":3.2e-8},{"x":281,"y":2.2e-8},
{"x":331,"y":8.9e-6},{"x":331,"y":5.6e-6},{"x":331,"y":3.5e-6},{"x":331,"y":2.2e-6},{"x":331,"y":1.4e-6},{"x":331,"y":8.9e-7},{"x":331,"y":5.6e-7},{"x":331,"y":3.5e-7},{"x":331,"y":2e-7},{"x":331,"y":1.6e-7},{"x":331,"y":1.3e-8},
{"x":390,"y":6.3e-6},{"x":390,"y":4e-6},{"x":390,"y":2.5e-6},{"x":390,"y":1.6e-6},{"x":390,"y":1e-6},{"x":390,"y":6.3e-7},{"x":390,"y":4e-7},{"x":390,"y":1e-7},{"x":390,"y":5.6e-8},{"x":390,"y":2.8e-8},
{"x":459,"y":4e-6},{"x":459,"y":2.5e-6},{"x":459,"y":1.6e-6},{"x":459,"y":1e-6},{"x":459,"y":6.3e-7},{"x":459,"y":4e-7},{"x":459,"y":2.5e-7},{"x":459,"y":1.6e-7},{"x":459,"y":1.1e-7},{"x":459,"y":1.6e-8},
{"x":541,"y":2.8e-6},{"x":541,"y":1.8e-6},{"x":541,"y":1.1e-6},{"x":541,"y":7.9e-7},{"x":541,"y":5.6e-7},{"x":541,"y":4e-7},{"x":541,"y":2.8e-7},{"x":541,"y":2e-7},{"x":541,"y":6.3e-8},{"x":541,"y":1e-8},{"x":541,"y":4.5e-9},
{"x":637,"y":2.2e-6},{"x":637,"y":1.4e-6},{"x":637,"y":8.9e-7},{"x":637,"y":5.6e-7},{"x":637,"y":3.5e-7},{"x":637,"y":2.2e-7},{"x":637,"y":1.4e-7},{"x":637,"y":8.9e-8},{"x":637,"y":6.3e-8},{"x":637,"y":3.5e-8},{"x":637,"y":1.1e-8},{"x":637,"y":7.1e-9},
{"x":750,"y":1.6e-6},{"x":750,"y":1e-6},{"x":750,"y":6.3e-7},{"x":750,"y":4e-7},{"x":750,"y":2.5e-7},{"x":750,"y":1.6e-7},{"x":750,"y":1e-7},{"x":750,"y":6.3e-8},{"x":750,"y":4e-8},{"x":750,"y":2e-8},{"x":750,"y":5.6e-9}
],
"cafit": [{"x":0.25,"y":0.266},{"x":2.64,"y":0.266},{"x":13.96,"y":4.07e-6},{"x":769,"y":7.1e-8}],
"scfit": [{"x":0.25,"y":0.295},{"x":2.45,"y":0.295},{"x":12.4,"y":1.12e-5},{"x":771,"y":5.5e-7}]
},
"hconcat": [
{
"width": 513, "height": 311,
"title": {"text": "CA/BA"},
"layer": [
{"data": {"name": "ca"},
 "mark": {"type": "square", "size": 5, "opacity": 0.4},
 "encoding": {
  "x": {"field": "x", "type": "quantitative", "scale": {"type": "log", "domain": [0.1, 1056], "nice": false},
   "axis": {"title": "λ/aeff", "values": [0.1,0.2,0.3,0.4,0.5,0.6,0.7,0.8,0.9,1,2,3,4,5,6,7,8,9,10,20,30,40,50,60,70,80,90,100,200,300,400,500,600,700,800,900,1000],
    "labelExpr": "datum.value == 0.1 ? '10⁻¹' : datum.value == 1 ? '1' : datum.value == 10 ? '10¹' : datum.value == 100 ? '10²' : datum.value == 1000 ? '10³' : ''",
    "tickSize": {"condition": {"test": "indexof([0.1,1,10,100,1000], datum.value) >= 0", "value": 4}, "value": 2},
    "labelOverlap": false, "labelFlush": false, "titlePadding": 2}},
  "y": {"field": "y", "type": "quantitative", "scale": {"type": "log", "domain": [2.3e-9, 4], "nice": false},
   "axis": {"title": "|QΓ|", "values": [0.1, 0.001, 0.00001, 1e-7], "tickSize": 4,
    "labelExpr": "datum.value > 0.01 ? '10⁻¹' : datum.value > 0.0001 ? '10⁻³' : datum.value > 0.000001 ? '10⁻⁵' : '10⁻⁷'",
    "labelOverlap": false, "titlePadding": 6}},
  "fill": {"datum": "DDSCAT results", "type": "nominal",
   "scale": {"domain": ["DDSCAT results"], "range": ["#000000"]},
   "legend": {"title": null, "orient": "none", "legendX": 283, "legendY": 10, "padding": 0,
    "symbolType": "circle", "symbolSize": 10, "symbolOpacity": 1, "symbolFillColor": "#000000", "symbolStrokeWidth": 0,
    "labelFont": "DejaVu Serif", "labelFontSize": 19, "labelColor": "#000", "labelOffset": 29, "labelLimit": 300,
    "clipHeight": 32, "rowPadding": 0}}
 }},
{"data": {"name": "cafit"},
 "mark": {"type": "line", "strokeWidth": 3.5},
 "encoding": {"x": {"field": "x", "type": "quantitative"}, "y": {"field": "y", "type": "quantitative"},
  "stroke": {"datum": "best fit", "type": "nominal",
   "scale": {"domain": ["best fit"], "range": ["#ff0000"]},
   "legend": {"title": null, "orient": "none", "legendX": 267, "legendY": 41, "padding": 0,
    "symbolType": "stroke", "symbolSize": 2200, "symbolStrokeWidth": 3.5, "symbolOpacity": 1, "symbolStrokeColor": "#ff0000",
    "labelFont": "DejaVu Serif", "labelFontSize": 19, "labelColor": "#000", "labelOffset": 13, "labelLimit": 300,
    "clipHeight": 32, "rowPadding": 0}}}}
]
},
{
"width": 503, "height": 309,
"title": {"text": "SC/BA"},
"layer": [
{"data": {"name": "sc"},
 "mark": {"type": "square", "size": 5, "opacity": 0.4, "color": "#000000"},
 "encoding": {
  "x": {"field": "x", "type": "quantitative", "scale": {"type": "log", "domain": [0.1, 1040], "nice": false},
   "axis": {"title": "λ/aeff", "values": [0.1,0.2,0.3,0.4,0.5,0.6,0.7,0.8,0.9,1,2,3,4,5,6,7,8,9,10,20,30,40,50,60,70,80,90,100,200,300,400,500,600,700,800,900,1000],
    "labelExpr": "datum.value == 0.1 ? '10⁻¹' : datum.value == 1 ? '1' : datum.value == 10 ? '10¹' : datum.value == 100 ? '10²' : datum.value == 1000 ? '10³' : ''",
    "tickSize": {"condition": {"test": "indexof([0.1,1,10,100,1000], datum.value) >= 0", "value": 4}, "value": 2},
    "labelOverlap": false, "labelFlush": false, "titlePadding": 2}},
  "y": {"field": "y", "type": "quantitative", "scale": {"type": "log", "domain": [1.47e-9, 6.7], "nice": false},
   "axis": {"title": "|QΓ|", "values": [0.1, 0.001, 0.00001, 1e-7], "tickSize": 4,
    "labelExpr": "datum.value > 0.01 ? '10⁻¹' : datum.value > 0.0001 ? '10⁻³' : datum.value > 0.000001 ? '10⁻⁵' : '10⁻⁷'",
    "labelOverlap": false, "titlePadding": 6}}
 }},
{"data": {"name": "scfit"},
 "mark": {"type": "line", "strokeWidth": 3.5, "color": "#ff0000"},
 "encoding": {"x": {"field": "x", "type": "quantitative"}, "y": {"field": "y", "type": "quantitative"}}}
]
}
],
"spacing": 8,
"resolve": {"scale": {"x": "independent", "y": "independent", "fill": "independent", "stroke": "independent"}},
"config": {
 "font": "DejaVu Serif",
 "view": {"stroke": "#808080", "strokeWidth": 1},
 "axis": {"grid": false, "domain": false, "tickColor": "#222222", "tickWidth": 1,
  "labelFont": "DejaVu Serif", "labelFontSize": 17, "labelColor": "#000000", "labelPadding": 3,
  "titleFont": "DejaVu Serif", "titleFontSize": 20, "titleFontWeight": "normal", "titleColor": "#000000"},
 "title": {"font": "DejaVu Serif", "fontSize": 18, "fontWeight": "normal", "offset": 2, "color": "#000000"}
}
}
